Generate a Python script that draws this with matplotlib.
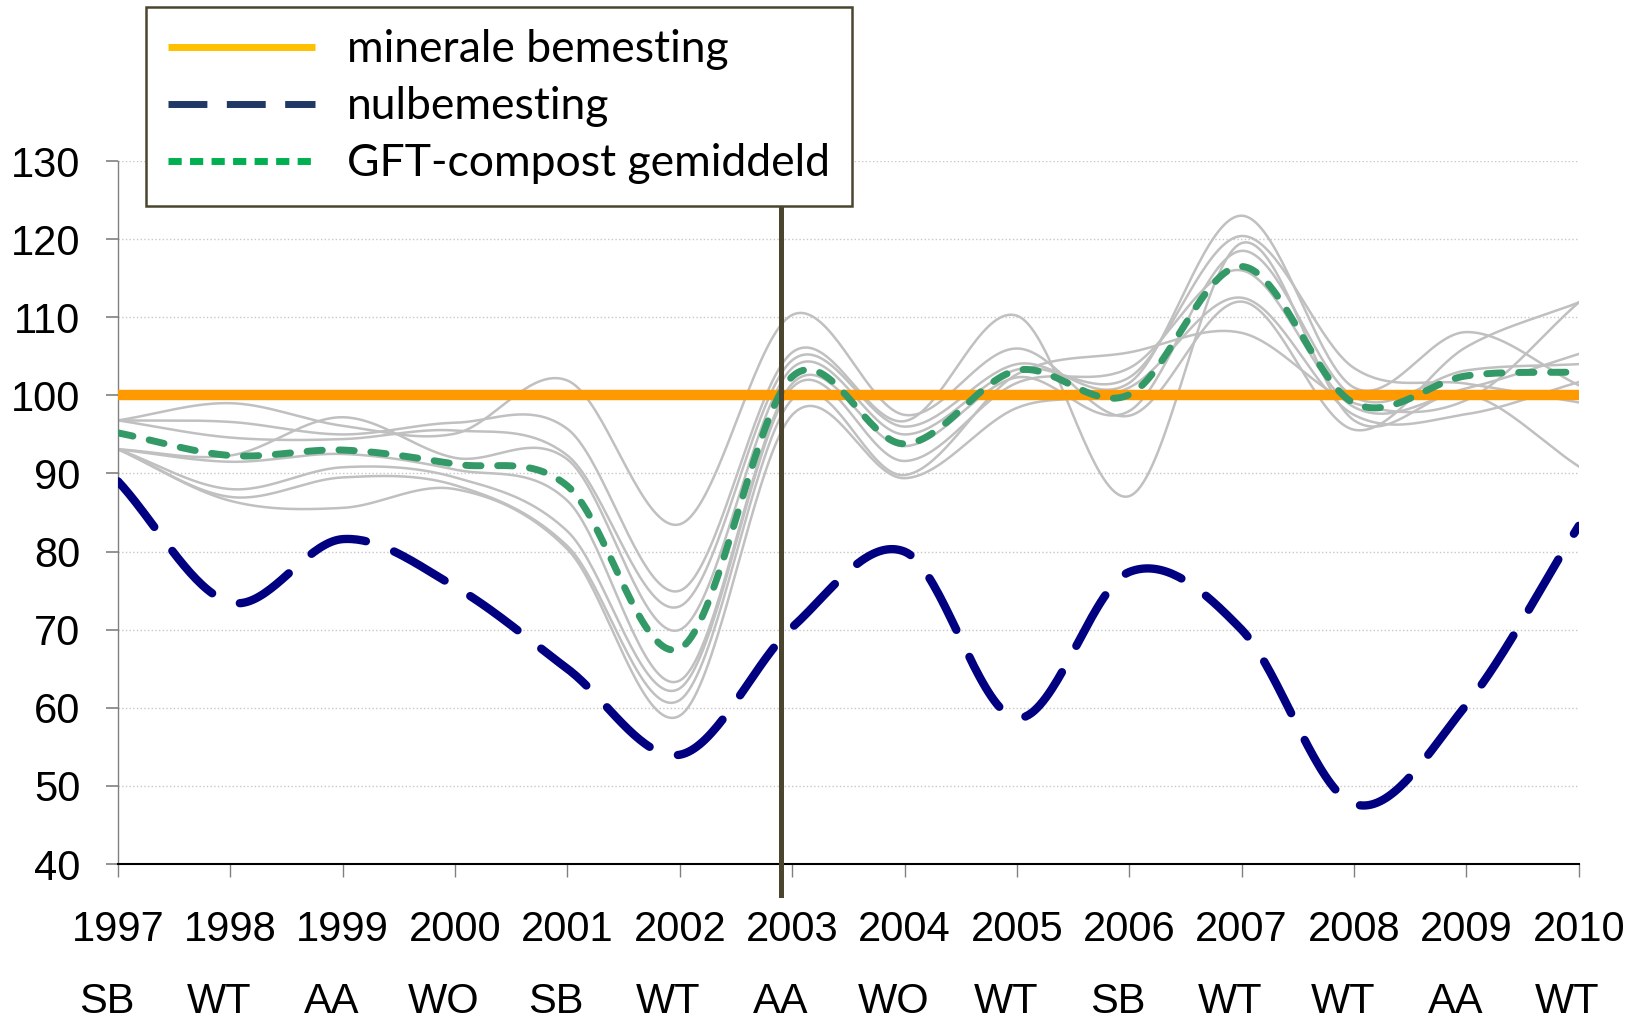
import numpy as np
import matplotlib
matplotlib.use("Agg")
import matplotlib.pyplot as plt
from matplotlib.lines import Line2D

years = list(range(1997, 2011))
crops = ["SB", "WT", "AA", "WO", "SB", "WT", "AA", "WO", "WT", "SB", "WT", "WT", "AA", "WT"]

mineraal = [100] * 14
nul = [89.0, 73.5, 81.6, 75.5, 65.0, 54.0, 70.3, 80.0, 58.7, 77.4, 70.0, 47.7, 60.4, 83.3]
gft_mean = [95.2, 92.3, 93.0, 91.2, 88.4, 67.6, 102.4, 93.8, 103.2, 100.1, 116.5, 99.0, 102.5, 103.0]

# individual GFT-compost objects
gft_1 = [96.8, 99.0, 96.1, 95.1, 101.9, 83.5, 110.3, 97.5, 106.0, 97.4, 112.0, 95.6, 106.2, 111.9]
gft_2 = [96.8, 96.6, 95.0, 96.5, 95.7, 75.0, 105.5, 96.7, 110.2, 87.1, 119.5, 96.8, 100.2, 90.9]
gft_3 = [96.8, 94.6, 94.4, 95.5, 92.3, 73.0, 104.5, 96.0, 104.0, 101.6, 123.0, 101.0, 108.1, 101.3]
gft_4 = [93.1, 92.3, 97.2, 92.0, 91.8, 70.0, 103.5, 95.0, 103.3, 102.3, 120.4, 103.5, 101.5, 99.1]
gft_5 = [93.1, 91.5, 92.5, 90.5, 86.5, 63.5, 101.5, 93.5, 102.3, 98.0, 118.5, 99.8, 103.2, 104.0]
gft_6 = [93.1, 88.0, 90.8, 89.5, 82.6, 62.5, 101.0, 91.6, 101.6, 103.5, 116.0, 98.5, 100.9, 105.3]
gft_7 = [93.1, 87.0, 89.5, 88.5, 80.7, 61.0, 99.5, 89.8, 102.7, 105.5, 108.0, 99.0, 99.4, 111.9]
gft_8 = [93.1, 86.5, 85.6, 88.0, 80.3, 59.0, 97.5, 89.4, 98.4, 101.0, 112.5, 97.5, 97.6, 101.7]
gft_objects = [gft_1, gft_2, gft_3, gft_4, gft_5, gft_6, gft_7, gft_8]

divider_year = 2002.9


def smooth(x, y, n=40):
    # Excel-like smoothed line: bezier segments through every point
    p = np.column_stack([np.asarray(x, float), np.asarray(y, float)])
    p = np.vstack([2 * p[0] - p[1], p, 2 * p[-1] - p[-2]])
    t = np.linspace(0, 1, n)[:, None]
    out = []
    for i in range(1, len(p) - 2):
        p0, p1, p2, p3 = p[i - 1], p[i], p[i + 1], p[i + 2]
        c1 = p1 + (p2 - p0) / 6
        c2 = p2 - (p3 - p1) / 6
        seg = ((1 - t) ** 3) * p1 + 3 * ((1 - t) ** 2) * t * c1 + 3 * (1 - t) * t ** 2 * c2 + t ** 3 * p2
        out.append(seg if i == 1 else seg[1:])
    out = np.vstack(out)
    return out[:, 0], out[:, 1]


fig = plt.figure(figsize=(16.48, 10.19), dpi=100)
ax = fig.add_axes([0.0716, 0.152, 0.8864, 0.690])

for g in gft_objects:
    sx, sy = smooth(years, g)
    ax.plot(sx, sy, color="#c0c0c0", lw=1.8, zorder=2)

ax.plot(years, mineraal, color="#ff9900", lw=7.5, solid_capstyle="butt", zorder=3)

sx, sy = smooth(years, gft_mean)
ax.plot(sx, sy, color="#339966", lw=5, dashes=(2.2, 2.4), dash_capstyle="round", zorder=4)

sx, sy = smooth(years, nul)
ax.plot(sx, sy, color="#000080", lw=6, dashes=(7, 3.6), dash_capstyle="round", zorder=4)

ax.set_xlim(1997, 2010)
ax.set_ylim(40, 130)
ax.set_yticks(range(40, 131, 10))
ax.set_xticks(years)
ax.set_xticklabels([str(y) for y in years])
ax.grid(axis="y", color="#c8c8c8", ls=":", lw=1)
ax.set_axisbelow(True)
for s in ["top", "right"]:
    ax.spines[s].set_visible(False)
ax.spines["left"].set_color("#808080")
ax.spines["left"].set_linewidth(1)
ax.spines["bottom"].set_color("black")
ax.spines["bottom"].set_linewidth(1.5)
ax.tick_params(axis="y", length=9, width=1.2, color="#808080", pad=18, labelsize=30)
ax.tick_params(axis="x", length=9, width=1, color="#808080", pad=24, labelsize=30)
for lab in ax.get_xticklabels() + ax.get_yticklabels():
    lab.set_fontfamily("Liberation Sans")

for yr, c in zip(years, crops):
    ax.text(yr - 0.1, -0.196, c, transform=ax.get_xaxis_transform(), ha="center", va="center",
            fontsize=30, family="Liberation Sans")

# vertical divider between periods
ax.plot([divider_year, divider_year], [36, 125], color="#4b4530", lw=3.6, clip_on=False, zorder=6)

handles = [
    Line2D([], [], color="#ffc000", lw=5, solid_capstyle="butt"),
    Line2D([], [], color="#1f3864", lw=5, dashes=(5.6, 2.8), dash_capstyle="butt"),
    Line2D([], [], color="#00b050", lw=5, dashes=(1.9, 1.2), dash_capstyle="butt"),
]
labels = ["minerale bemesting", "nulbemesting", "GFT-compost gemiddeld"]
leg = fig.legend(handles, labels, loc="upper left", bbox_to_anchor=(146 / 1648, 1 - 7 / 1019),
                 borderaxespad=0, prop={"family": "Lato", "size": 32}, handlelength=3.3,
                 labelspacing=0.36, borderpad=0.5, handletextpad=0.72, fancybox=False, framealpha=1)
leg.get_frame().set_edgecolor("#4b4530")
leg.get_frame().set_linewidth(1.8)
leg.set_zorder(10)

fig.savefig("out.png", dpi=100)
